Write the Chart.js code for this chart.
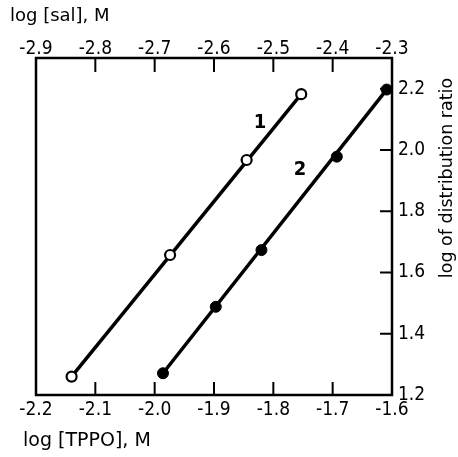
<!DOCTYPE html>
<html><head><meta charset="utf-8">
<script src="https://cdn.jsdelivr.net/npm/chart.js@4.4.0/dist/chart.umd.min.js"></script>
<style>html,body{margin:0;padding:0;background:#fff;overflow:hidden}</style>
</head><body>
<canvas id="c" width="458" height="457"></canvas>
<script>
// ---- data ----
const salTicks = [-2.9, -2.8, -2.7, -2.6, -2.5, -2.4, -2.3];
const tppoTicks = [-2.2, -2.1, -2.0, -1.9, -1.8, -1.7, -1.6];
const ratioTicks = [1.2, 1.4, 1.6, 1.8, 2.0, 2.2];

const series1Sal = [-2.840, -2.674, -2.545, -2.453];
const series1Ratio = [1.260, 1.657, 1.967, 2.182];
const series2Tppo = [-1.986, -1.897, -1.820, -1.693, -1.609];
const series2Ratio = [1.271, 1.488, 1.673, 1.978, 2.197];

const line1Sal = [-2.840, -2.453];
const line1Ratio = [1.260, 2.182];
const line2Tppo = [-1.986, -1.609];
const line2Ratio = [1.271, 2.197];

const curveNames = ['1', '2'];

const topTitle = 'log [sal], M';
const bottomTitle = 'log [TPPO], M';
const rightTitle = 'log of distribution ratio';

// ---- build chart ----
const pts = (xs, ys) => xs.map((x, i) => ({x: x, y: ys[i]}));
const narrow = "'DejaVu Sans Condensed', sans-serif";
const regular = "'DejaVu Sans', sans-serif";
const tickFont = {family: narrow, size: 19};

const labelAnchors = [
  {text: curveNames[0], xAxis: 'xTop', x: -2.5225, y: 2.089},
  {text: curveNames[1], xAxis: 'x', x: -1.755, y: 1.935}
];

const framePlugin = {
  id: 'frame',
  afterDraw(chart) {
    const ctx = chart.ctx, a = chart.chartArea;
    const xs = chart.scales.x, xt = chart.scales.xTop, ys = chart.scales.y;
    ctx.save();
    ctx.strokeStyle = '#000';
    ctx.lineWidth = 2.5;
    ctx.strokeRect(a.left, a.top, a.right - a.left, a.bottom - a.top);
    ctx.lineWidth = 2;
    ctx.beginPath();
    tppoTicks.forEach(v => { const p = xs.getPixelForValue(v); ctx.moveTo(p, a.bottom); ctx.lineTo(p, a.bottom - 13); });
    salTicks.forEach(v => { const p = xt.getPixelForValue(v); ctx.moveTo(p, a.top); ctx.lineTo(p, a.top + 14); });
    ratioTicks.forEach(v => { const p = ys.getPixelForValue(v); ctx.moveTo(a.right, p); ctx.lineTo(a.right - 12, p); });
    ctx.stroke();

    ctx.fillStyle = '#000';
    ctx.font = "bold 20px " + narrow;
    ctx.textAlign = 'center';
    ctx.textBaseline = 'middle';
    labelAnchors.forEach(l => {
      ctx.fillText(l.text, chart.scales[l.xAxis].getPixelForValue(l.x), ys.getPixelForValue(l.y));
    });

    ctx.textAlign = 'left';
    ctx.textBaseline = 'alphabetic';
    ctx.font = "18px " + regular;
    ctx.fillText(topTitle, 10, 21);
    ctx.font = "19px " + regular;
    ctx.fillText(bottomTitle, 23, 446);

    ctx.font = "17.5px " + regular;
    ctx.translate(447, 178);
    ctx.rotate(-Math.PI / 2);
    ctx.textAlign = 'center';
    ctx.textBaseline = 'middle';
    ctx.fillText(rightTitle, 0, 0);
    ctx.restore();
  }
};

const fmt = v => Number(v).toFixed(1);

new Chart(document.getElementById('c'), {
  type: 'scatter',
  data: {
    datasets: [
      {label: '1', data: pts(series1Sal, series1Ratio), xAxisID: 'xTop', yAxisID: 'y',
       pointRadius: 5, pointHoverRadius: 5, pointBorderWidth: 2.2,
       pointBackgroundColor: '#fff', pointBorderColor: '#000', showLine: false, order: 0},
      {label: '2', data: pts(series2Tppo, series2Ratio), xAxisID: 'x', yAxisID: 'y',
       pointRadius: 5.5, pointHoverRadius: 5.5, pointBorderWidth: 1,
       pointBackgroundColor: '#000', pointBorderColor: '#000', showLine: false, order: 0},
      {label: 'fit1', data: pts(line1Sal, line1Ratio), xAxisID: 'xTop', yAxisID: 'y',
       showLine: true, borderColor: '#000', borderWidth: 3.5, pointRadius: 0, order: 1},
      {label: 'fit2', data: pts(line2Tppo, line2Ratio), xAxisID: 'x', yAxisID: 'y',
       showLine: true, borderColor: '#000', borderWidth: 3.5, pointRadius: 0, order: 1}
    ]
  },
  options: {
    responsive: false,
    animation: false,
    devicePixelRatio: 1,
    layout: {padding: {left: 36, top: 0, right: 0, bottom: 0}},
    plugins: {legend: {display: false}, tooltip: {enabled: false}},
    events: [],
    scales: {
      x: {
        type: 'linear', position: 'bottom', min: -2.2, max: -1.6,
        afterBuildTicks: s => { s.ticks = tppoTicks.map(v => ({value: v})); },
        afterFit: s => { s.height = 62; },
        ticks: {callback: fmt, font: tickFont, color: '#000', padding: 4, maxRotation: 0, autoSkip: false},
        grid: {display: false, drawTicks: false}, border: {display: false}
      },
      xTop: {
        type: 'linear', position: 'top', min: -2.9, max: -2.3,
        afterBuildTicks: s => { s.ticks = salTicks.map(v => ({value: v})); },
        afterFit: s => { s.height = 58; },
        ticks: {callback: fmt, font: tickFont, color: '#000', padding: -2, maxRotation: 0, autoSkip: false},
        grid: {display: false, drawTicks: false}, border: {display: false}
      },
      y: {
        type: 'linear', position: 'right', min: 1.2, max: 2.3,
        afterBuildTicks: s => { s.ticks = ratioTicks.map(v => ({value: v})); },
        afterFit: s => { s.width = 66; },
        ticks: {callback: fmt, font: tickFont, color: '#000', padding: 6, autoSkip: false},
        grid: {display: false, drawTicks: false}, border: {display: false}
      }
    }
  },
  plugins: [framePlugin]
});
</script>
</body></html>
